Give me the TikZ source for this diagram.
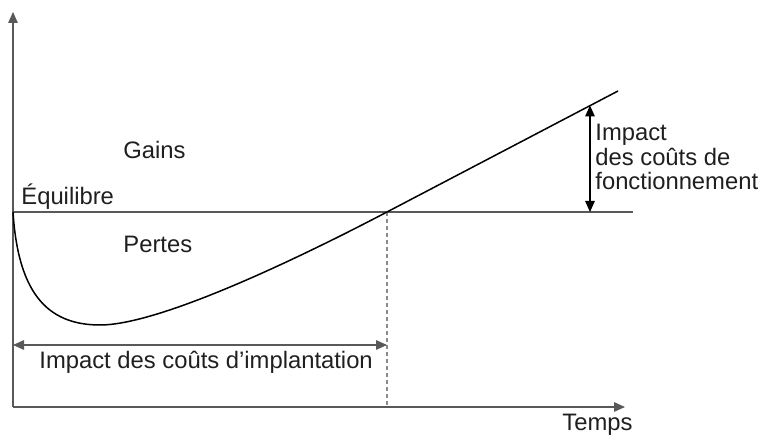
\documentclass[tikz,border=0pt]{standalone}
\usepackage{fontspec}
\setmainfont{Liberation Sans}
\usetikzlibrary{arrows.meta}
\definecolor{axisgray}{gray}{0.35}
\definecolor{textgray}{gray}{0.12}

\begin{document}
\begin{tikzpicture}[x=0.5pt, y=-0.5pt,
	lbl/.style={font=\fontsize{11.9}{12}\selectfont, text=textgray, inner sep=0pt, anchor=base west},
	axisline/.style={axisgray, line width=0.55pt},
	tipend/.style={-{Triangle[length=5.5pt,width=4.8pt]}},
	tipboth/.style={{Triangle[length=5.5pt,width=4.8pt]}-{Triangle[length=5.5pt,width=4.8pt]}}]

	\useasboundingbox (0,0) rectangle (760,437);

	% --- key points ---
	\coordinate (O) at (13,407);
	\coordinate (ytop) at (13,12);
	\coordinate (xend) at (625,407);
	\coordinate (eqL) at (13,212);
	\coordinate (eqR) at (633,212);
	\coordinate (cross) at (387,212);
	\coordinate (crossB) at (387,407);
	\coordinate (curvemin) at (100,325);
	\coordinate (curveend) at (618,91);
	\coordinate (implL) at (13,345);
	\coordinate (implR) at (387,345);
	\coordinate (fonctT) at (590,105.5);
	\coordinate (fonctB) at (590,212);

	% --- axes ---
	\draw[axisline, tipend] (O) -- (ytop);
	\draw[axisline, tipend] (O) -- (xend);

	% --- equilibre et seuil ---
	\draw[axisline] (eqL) -- (eqR);
	\draw[axisgray!70, line width=0.55pt, dash pattern=on 2pt off 1.5pt] (cross) -- (crossB);

	% --- courbe ---
	\draw[black, line width=0.75pt] (eqL) .. controls (18,290) and (45,325) .. (curvemin)
		.. controls (160,325) and (300,257.6) .. (cross) -- (curveend);

	% --- cotes ---
	\draw[axisline, tipboth] (implL) -- (implR);
	\draw[black, line width=0.55pt, tipboth] (fonctT) -- (fonctB);

	% --- labels ---
	\node[lbl] (gains) at (123,159) {Gains};
	\node[lbl] (equil) at (21,205) {Équilibre};
	\node[lbl] (pertes) at (123,253) {Pertes};
	\node[lbl] (implant) at (39,369) {Impact des coûts d’implantation};
	\node[lbl] (temps) at (562,431) {Temps};
	\node[lbl, align=left] (fonct) at (595,190) {Impact\\[0.5pt]des coûts de\\fonctionnement};

\end{tikzpicture}
\end{document}
